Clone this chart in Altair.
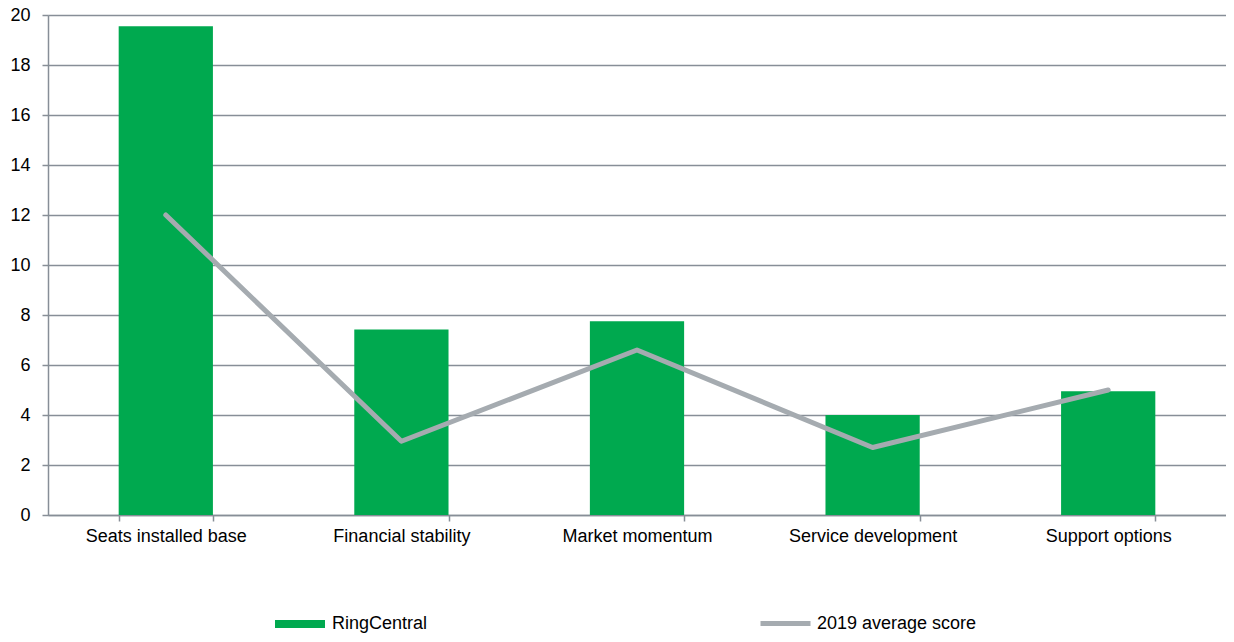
import altair as alt
import pandas as pd

categories = ["Seats installed base", "Financial stability", "Market momentum",
              "Service development", "Support options"]
ringcentral = [19.55, 7.42, 7.75, 4.0, 4.95]
avg_2019 = [12.0, 2.95, 6.6, 2.7, 5.0]
y_ticks = [0, 2, 4, 6, 8, 10, 12, 14, 16, 18, 20]

df = pd.DataFrame({"category": categories, "rc": ringcentral, "avg": avg_2019})

FONT = "Liberation Sans"
GREEN = "#00a94f"
GRAY = "#a5abb0"
GRID = "#878e97"

x_scale = alt.Scale(paddingInner=0.6, paddingOuter=0.3)
y_scale = alt.Scale(domain=[0, 20], nice=False)

x_axis = alt.Axis(labelAngle=0, tickBand="extent", labelPadding=6, tickSize=6, grid=False)
y_axis = alt.Axis(values=y_ticks, labelPadding=12, grid=True, tickSize=6)

bars = alt.Chart(df).mark_bar(color=GREEN).encode(
    x=alt.X("category:N", sort=categories, title=None, scale=x_scale, axis=x_axis),
    y=alt.Y("rc:Q", title=None, scale=y_scale, axis=y_axis),
    color=alt.Color("s:N", scale=alt.Scale(domain=["RingCentral"], range=[GREEN]),
                    legend=alt.Legend(title=None, orient="none", legendX=227, legendY=584,
                                      symbolType="M-1,-0.16L1,-0.16L1,0.16L-1,0.16Z",
                                      symbolSize=2500, symbolStrokeWidth=0,
                                      labelOffset=7)),
).transform_calculate(s="'RingCentral'")

line = alt.Chart(df).mark_line(color=GRAY, strokeWidth=5, strokeCap="round",
                               strokeJoin="round").encode(
    x=alt.X("category:N", sort=categories, title=None, axis=x_axis),
    y=alt.Y("avg:Q", title=None, axis=y_axis),
    stroke=alt.Stroke("s:N", scale=alt.Scale(domain=["2019 average score"], range=[GRAY]),
                      legend=alt.Legend(title=None, orient="none", legendX=710, legendY=581,
                                        symbolType="stroke", symbolSize=2500,
                                        symbolStrokeWidth=5, labelOffset=4)),
).transform_calculate(s="'2019 average score'")

chart = alt.layer(bars, line).resolve_scale(color="independent", stroke="independent").properties(
    width=1178, height=500,
    autosize=alt.AutoSizeParams(type="none"),
    padding={"left": 40, "top": 7, "right": 0, "bottom": 119},
).configure_view(stroke=None).configure(background="white").configure_axis(
    labelFontSize=18, labelFont=FONT, labelColor="#000000",
    domainColor=GRID, domainWidth=1.5, tickColor=GRID, tickWidth=1.5,
    gridColor=GRID, gridWidth=1.5,
).configure_legend(labelFontSize=18, labelFont=FONT, labelColor="#000000")

chart.save("out.html", embed_options={"renderer": "svg", "actions": False})
